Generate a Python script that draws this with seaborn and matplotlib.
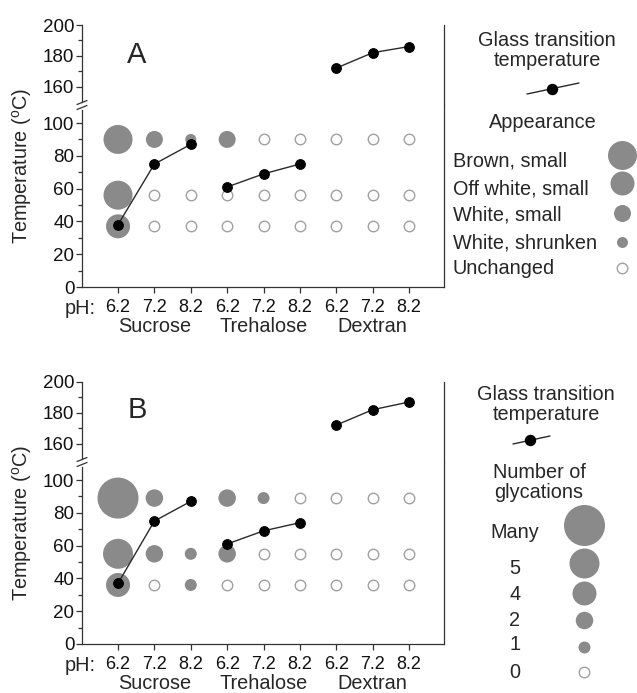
import matplotlib
matplotlib.use("Agg")
import matplotlib.pyplot as plt
import seaborn as sns
import pandas as pd

# ---------------- data ----------------
sugars = ["Sucrose", "Trehalose", "Dextran"]
ph_levels = ["6.2", "7.2", "8.2"]

# glass transition temperatures (one per sugar/pH condition)
tg_a = [38, 75, 87, 61, 69, 75, 172, 182, 186]
tg_b = [37, 75, 87, 61, 69, 74, 172, 182, 187]

# panel A: appearance at three heating temperatures
rows_a = [90, 56, 37]
appearance_a = [
    ["Brown, small", "White, small", "White, shrunken", "White, small", "Unchanged",
     "Unchanged", "Unchanged", "Unchanged", "Unchanged"],
    ["Brown, small", "Unchanged", "Unchanged", "Unchanged", "Unchanged",
     "Unchanged", "Unchanged", "Unchanged", "Unchanged"],
    ["Off white, small", "Unchanged", "Unchanged", "Unchanged", "Unchanged",
     "Unchanged", "Unchanged", "Unchanged", "Unchanged"],
]
appearance_levels = ["Brown, small", "Off white, small", "White, small",
                     "White, shrunken", "Unchanged"]

# panel B: number of glycations at three heating temperatures
rows_b = [89, 55, 36]
glycations_b = [
    ["Many", "2", None, "2", "1", "0", "0", "0", "0"],
    ["5", "2", "1", "2", "0", "0", "0", "0", "0"],
    ["4", "0", "1", "0", "0", "0", "0", "0", "0"],
]
glyc_levels = ["Many", "5", "4", "2", "1", "0"]

# ---------------- styles ----------------
W_PX, H_PX = 637, 693
GRAY = "#8a8a8a"
HOLLOW_EDGE = "#a0a0a0"
AXIS_COLOR = "#333333"
appearance_diam = {"Brown, small": 29, "Off white, small": 24, "White, small": 17,
                   "White, shrunken": 11, "Unchanged": 10.5}
glyc_diam = {"Many": 41, "5": 30, "4": 24, "2": 17.5, "1": 12, "0": 10.5}
FS = 14.3


def area(d_px):
    return (d_px * 0.72) ** 2


sns.set_style("ticks")
plt.rcParams["font.family"] = ["Liberation Sans", "DejaVu Sans"]
plt.rcParams["axes.edgecolor"] = AXIS_COLOR
plt.rcParams["xtick.color"] = AXIS_COLOR
plt.rcParams["ytick.color"] = AXIS_COLOR
plt.rcParams["xtick.labelcolor"] = "#111111"
plt.rcParams["ytick.labelcolor"] = "#111111"

fig = plt.figure(figsize=(W_PX / 100, H_PX / 100), dpi=100)

L_PX, R_PX = 82, 444
conditions = [(s, p) for s in sugars for p in ph_levels]


def draw_panel(top_px, brk_px, bot_px, rows, cats, levels, diam, hollow, tg):
    L = L_PX / W_PX
    Wd = (R_PX - L_PX) / W_PX
    ax_t = fig.add_axes([L, 1 - brk_px / H_PX, Wd, (brk_px - top_px) / H_PX])
    ax_b = fig.add_axes([L, 1 - bot_px / H_PX, Wd, (bot_px - brk_px) / H_PX])

    pts = []
    for r, temp in enumerate(rows):
        for j, lvl in enumerate(cats[r]):
            if lvl is not None:
                pts.append({"x": j, "y": temp, "level": lvl})
    df = pd.DataFrame(pts)
    filled = df[df["level"] != hollow]
    empty = df[df["level"] == hollow]
    tg_df = pd.DataFrame({"x": list(range(len(conditions))),
                          "tg": tg,
                          "sugar": [c[0] for c in conditions]})

    for ax in (ax_t, ax_b):
        sns.scatterplot(data=filled, x="x", y="y", size="level",
                        sizes={k: area(v) for k, v in diam.items()},
                        size_order=[l for l in levels if l != hollow],
                        color=GRAY, linewidth=0, legend=False, ax=ax, zorder=2)
        sns.scatterplot(data=empty, x="x", y="y", s=area(diam[hollow]),
                        color="white", edgecolor=HOLLOW_EDGE, linewidth=1.0,
                        legend=False, ax=ax, zorder=2)
        sns.lineplot(data=tg_df, x="x", y="tg", units="sugar", estimator=None,
                     color="#2a2a2a", lw=1.0, marker="o", markersize=7,
                     markerfacecolor="black", markeredgecolor="black",
                     legend=False, ax=ax, zorder=3)
        ax.set_xlim(-0.99, 8.96)
        ax.set_xlabel("")
        ax.set_ylabel("")
        for s in ("left", "right", "bottom", "top"):
            ax.spines[s].set_linewidth(0.9)
            ax.spines[s].set_color(AXIS_COLOR)
        ax.spines["top"].set_visible(False)
        ax.tick_params(axis="y", which="major", length=4, width=0.9,
                       labelsize=13.5, pad=1.5, right=False)
        ax.tick_params(axis="y", which="minor", length=3, width=0.9, right=False)

    ax_t.set_ylim(148, 200)
    ax_t.spines["bottom"].set_visible(False)
    ax_t.spines["left"].set_bounds(150, 200)
    ax_t.set_yticks([160, 180, 200])
    ax_t.set_yticks([170, 190], minor=True)
    ax_t.tick_params(axis="x", bottom=False, labelbottom=False)

    ax_b.set_ylim(0, 111)
    ax_b.spines["left"].set_bounds(0, 108)
    ax_b.set_yticks([0, 20, 40, 60, 80, 100])
    ax_b.set_yticks([10, 30, 50, 70, 90], minor=True)
    ax_b.set_xticks(list(range(len(conditions))))
    ax_b.set_xticklabels([c[1] for c in conditions])
    ax_b.tick_params(axis="x", length=4.5, width=0.9, labelsize=13, pad=4.0)
    ax_b.annotate("pH:", xy=(-0.62, 0), xycoords=("data", "axes fraction"),
                  xytext=(0, -15.5), textcoords="offset points",
                  ha="right", va="center", fontsize=FS)
    for i, s in enumerate(sugars):
        ax_b.annotate(s, xy=(1 + 3 * i, 0), xycoords=("data", "axes fraction"),
                      xytext=(0, -28.5), textcoords="offset points",
                      ha="center", va="center", fontsize=FS)
    return ax_t, ax_b


draw_panel(25, 105, 287, rows_a, appearance_a, appearance_levels,
           appearance_diam, "Unchanged", tg_a)
draw_panel(382, 462, 644, rows_b, glycations_b, glyc_levels,
           glyc_diam, "0", tg_b)

# ---------------- overlay: labels, break marks, legends ----------------
ov = fig.add_axes([0, 0, 1, 1])
ov.set_xlim(0, W_PX)
ov.set_ylim(H_PX, 0)
ov.axis("off")

for dy in (0, 357):
    # axis break marks
    for yb in (102.5, 107.5):
        ov.plot([L_PX - 5, L_PX + 5], [yb + dy + 2, yb + dy - 2],
                color=AXIS_COLOR, lw=0.9)
    ov.text(22, 166 + dy, "Temperature ($^{\\mathregular{o}}$C)", rotation=90,
            ha="center", va="center", fontsize=FS)

ov.text(137, 55, "A", ha="center", va="center", fontsize=21)
ov.text(137, 410, "B", ha="center", va="center", fontsize=21)

# legend A
ov.text(547, 40, "Glass transition", ha="center", va="center", fontsize=FS)
ov.text(547, 60, "temperature", ha="center", va="center", fontsize=FS)
ov.plot([527, 579], [94, 83], color="#2a2a2a", lw=1.0)
ov.scatter([552], [88.5], s=area(10), color="black", zorder=3)
ov.text(543, 122, "Appearance", ha="center", va="center", fontsize=FS)
leg_a_text_y = [161, 189, 215, 243, 268]
leg_a_key_y = [155, 183, 213, 242, 268]
for lvl, ty, ky in zip(appearance_levels, leg_a_text_y, leg_a_key_y):
    ov.text(453, ty, lvl, ha="left", va="center", fontsize=FS)
    if lvl == "Unchanged":
        ov.scatter([622], [ky], s=area(appearance_diam[lvl]), color="white",
                   edgecolor=HOLLOW_EDGE, linewidth=1.0)
    else:
        ov.scatter([622], [ky], s=area(appearance_diam[lvl]), color=GRAY,
                   linewidth=0)

# legend B
ov.text(546, 395, "Glass transition", ha="center", va="center", fontsize=FS)
ov.text(546, 415, "temperature", ha="center", va="center", fontsize=FS)
ov.plot([513, 550], [444, 436], color="#2a2a2a", lw=1.0)
ov.scatter([530], [440], s=area(10), color="black", zorder=3)
ov.text(539, 473, "Number of", ha="center", va="center", fontsize=FS)
ov.text(539, 493, "glycations", ha="center", va="center", fontsize=FS)
leg_b_text_y = [532, 568, 595, 620, 645, 672]
leg_b_key_y = [525, 563, 593, 620, 647, 672]
for lvl, ty, ky in zip(glyc_levels, leg_b_text_y, leg_b_key_y):
    ov.text(515, ty, lvl, ha="center", va="center", fontsize=FS)
    if lvl == "0":
        ov.scatter([584], [ky], s=area(glyc_diam[lvl]), color="white",
                   edgecolor=HOLLOW_EDGE, linewidth=1.0)
    else:
        ov.scatter([584], [ky], s=area(glyc_diam[lvl]), color=GRAY, linewidth=0)

fig.savefig("out.png", dpi=100)
